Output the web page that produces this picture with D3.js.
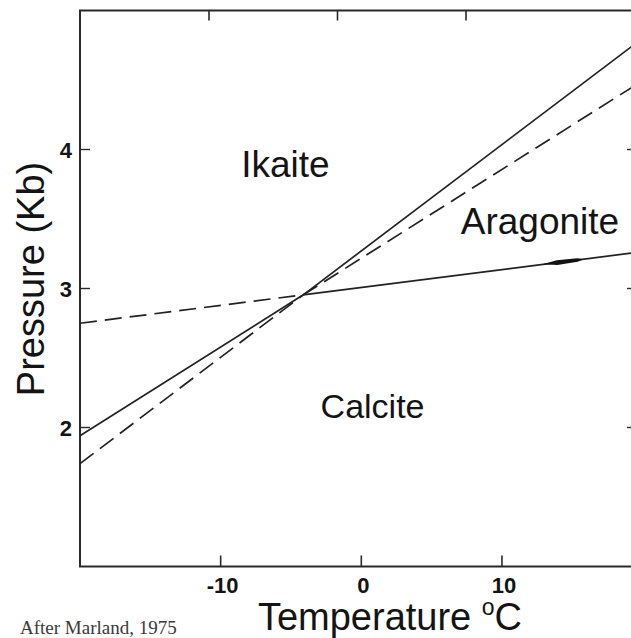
<!DOCTYPE html>
<html>
<head>
<meta charset="utf-8">
<script src="https://cdn.jsdelivr.net/npm/d3@7/dist/d3.min.js"></script>
<style>
  html, body { margin: 0; padding: 0; background: #fff; }
  svg { display: block; }
  text { fill: #141414; }
</style>
</head>
<body>
<svg id="chart" width="631" height="638"></svg>
<script>
// Phase diagram of CaCO3 polymorphs: temperature (°C) vs pressure (kilobars)
const tempDomain = [-20, 19.6];
const pressDomain = [1, 5];
const tempTicks = [-10, 0, 10];
const pressTicks = [2, 3, 4];

// Invariant point where the three phase fields meet
const triplePoint = { T: -4.15, P: 2.95 };

// Boundary end points at the left and right edges of the plot
const ikaiteCalcite = [{ T: -20, P: 1.94 }, { T: 19.6, P: 4.47 }];    // stable below the invariant point
const ikaiteAragonite = [{ T: -20, P: 1.74 }, { T: 19.6, P: 4.77 }];  // stable above the invariant point
const calciteAragonite = [{ T: -20, P: 2.75 }, { T: 19.6, P: 3.26 }]; // stable above the invariant point

// Arrowhead drawn along the calcite–aragonite boundary
const arrowSpan = [12.9, 15.8];

const fieldLabels = [
  { name: "Ikaite", T: -5.4, P: 3.8, size: 37 },
  { name: "Aragonite", T: 12.7, P: 3.39, size: 37 },
  { name: "Calcite", T: 0.8, P: 2.07, size: 34 }
];

const SANS = "'Liberation Sans', Arial, sans-serif";
const SERIF = "'Liberation Serif', 'Times New Roman', serif";

const svg = d3.select("#chart");
const plotLeft = 80, plotRight = 637, plotTop = 10.5, plotBottom = 566.5;

const x = d3.scaleLinear().domain(tempDomain).range([plotLeft, plotRight]);
const y = d3.scaleLinear().domain(pressDomain).range([plotBottom, plotTop]);

// frame with inward ticks
const frame = svg.append("g").attr("stroke", "#2a2a2a").attr("fill", "none");
frame.append("rect")
  .attr("x", plotLeft).attr("y", plotTop)
  .attr("width", plotRight - plotLeft).attr("height", plotBottom - plotTop)
  .attr("stroke-width", 2);

// the upper edge carries its own tick spacing
const xTop = d3.scaleLinear().domain([-10, 10]).range([209, 466]);

frame.selectAll("line.bt").data(tempTicks).join("line")
  .attr("x1", d => x(d)).attr("x2", d => x(d))
  .attr("y1", plotBottom).attr("y2", plotBottom - 11).attr("stroke-width", 1.6);
frame.selectAll("line.tt").data(tempTicks).join("line")
  .attr("x1", d => xTop(d)).attr("x2", d => xTop(d))
  .attr("y1", plotTop).attr("y2", plotTop + 10).attr("stroke-width", 1.6);
frame.selectAll("line.lt").data(pressTicks).join("line")
  .attr("x1", plotLeft).attr("x2", plotLeft + 10)
  .attr("y1", d => y(d)).attr("y2", d => y(d)).attr("stroke-width", 1.4);
frame.selectAll("line.rt").data(pressTicks).join("line")
  .attr("x1", plotRight).attr("x2", plotRight - 10)
  .attr("y1", d => y(d)).attr("y2", d => y(d)).attr("stroke-width", 1.4);

// tick labels
svg.append("g").selectAll("text").data(tempTicks).join("text")
  .attr("x", d => x(d) + 2).attr("y", 593)
  .attr("text-anchor", "middle")
  .style("font-family", SANS)
  .attr("font-size", 22).attr("font-weight", "bold")
  .text(d => d < 0 ? "-" + Math.abs(d) : d);

svg.append("g").selectAll("text").data(pressTicks).join("text")
  .attr("x", 72).attr("y", d => y(d) + 8)
  .attr("text-anchor", "end")
  .style("font-family", SANS)
  .attr("font-size", 22).attr("font-weight", "bold")
  .text(d => d);

// phase boundaries, split at the invariant point
const line = d3.line().x(d => x(d.T)).y(d => y(d.P));
const plot = svg.append("g");
function pointAt(seg, T) {
  const [a, b] = seg;
  return { T, P: a.P + (b.P - a.P) * (T - a.T) / (b.T - a.T) };
}
function boundary(seg, solidSide) {
  const mid = pointAt(seg, triplePoint.T);
  const lower = [seg[0], mid], upper = [mid, seg[1]];
  const solid = solidSide === "low" ? lower : upper;
  const dashed = solidSide === "low" ? upper : lower;
  plot.append("path").attr("d", line(solid))
    .attr("fill", "none").attr("stroke", "#222").attr("stroke-width", 1.7);
  plot.append("path").attr("d", line(dashed))
    .attr("fill", "none").attr("stroke", "#222").attr("stroke-width", 1.7)
    .attr("stroke-dasharray", "17,8");
}
boundary(ikaiteCalcite, "low");
boundary(ikaiteAragonite, "high");
boundary(calciteAragonite, "high");

// tapered arrowhead laid along the calcite–aragonite line
{
  const p0 = pointAt(calciteAragonite, arrowSpan[0]);
  const p1 = pointAt(calciteAragonite, arrowSpan[1]);
  const x0 = x(p0.T), y0 = y(p0.P), x1 = x(p1.T), y1 = y(p1.P);
  const len = Math.hypot(x1 - x0, y1 - y0);
  const ux = (x1 - x0) / len, uy = (y1 - y0) / len;
  const nx = -uy, ny = ux;
  const at = (f, w) => [x0 + ux * len * f + nx * w, y0 + uy * len * f + ny * w];
  const pts = [at(0, 0), at(0.35, 2.4), at(0.85, 1.8), at(1, 0), at(0.85, -1.6), at(0.35, -2.2)];
  plot.append("path").attr("d", "M" + pts.join("L") + "Z").attr("fill", "#111");
}

// field names
svg.append("g").selectAll("text").data(fieldLabels).join("text")
  .attr("x", d => x(d.T)).attr("y", d => y(d.P))
  .attr("text-anchor", "middle")
  .style("font-family", SANS)
  .attr("font-size", d => d.size)
  .text(d => d.name);

// axis titles
svg.append("text")
  .attr("transform", "translate(44,279) rotate(-90)")
  .attr("text-anchor", "middle")
  .style("font-family", SANS)
  .attr("font-size", 38)
  .text("Pressure (Kb)");

const xt = svg.append("text")
  .attr("x", 390).attr("y", 630)
  .attr("text-anchor", "middle")
  .style("font-family", SANS)
  .attr("font-size", 38);
xt.append("tspan").text("Temperature ");
xt.append("tspan").attr("font-size", 23).attr("dy", -15).text("o");
xt.append("tspan").attr("dy", 15).text("C");

svg.append("text")
  .attr("x", 20).attr("y", 634)
  .style("font-family", SERIF)
  .attr("font-size", 19)
  .style("fill", "#3a3a3a")
  .text("After Marland, 1975");
</script>
</body>
</html>
